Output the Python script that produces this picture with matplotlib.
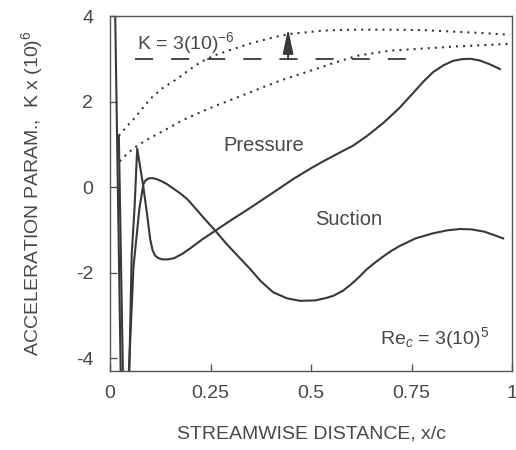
import matplotlib
matplotlib.use("Agg")
import matplotlib.pyplot as plt

plt.rcParams["font.family"] = ["Liberation Sans", "DejaVu Sans"]
plt.rcParams["mathtext.fontset"] = "custom"
plt.rcParams["mathtext.rm"] = "Liberation Sans"
plt.rcParams["mathtext.it"] = "Liberation Sans:italic"

# --- data --------------------------------------------------------------
pressure_x = [0.012, 0.027, 0.030, 0.044, 0.048, 0.054, 0.061, 0.0676, 0.072,
              0.078, 0.083, 0.092, 0.100, 0.106, 0.112, 0.120, 0.130, 0.145,
              0.160, 0.180, 0.200, 0.230, 0.262, 0.300, 0.340, 0.380, 0.420,
              0.456, 0.500, 0.530, 0.570, 0.605, 0.640, 0.680, 0.720, 0.754,
              0.780, 0.804, 0.830, 0.853, 0.875, 0.896, 0.920, 0.945, 0.970]
pressure_y = [4.6, -4.6, -5.0, -5.0, -4.3, -1.57, -0.5, 0.9, 0.65,
              0.3, 0.0, -0.62, -1.22, -1.48, -1.6, -1.66, -1.69, -1.69,
              -1.66, -1.56, -1.43, -1.22, -1.02, -0.78, -0.54, -0.29, -0.04,
              0.19, 0.44, 0.6, 0.8, 0.97, 1.2, 1.5, 1.85, 2.2,
              2.47, 2.69, 2.85, 2.95, 2.99, 3.0, 2.96, 2.87, 2.76]

suction_x = [0.022, 0.032, 0.036, 0.044, 0.047, 0.0584, 0.073, 0.083, 0.088,
             0.095, 0.105, 0.115, 0.125, 0.140, 0.160, 0.175, 0.192, 0.210,
             0.235, 0.262, 0.290, 0.320, 0.349, 0.375, 0.406, 0.440, 0.473,
             0.510, 0.535, 0.556, 0.580, 0.600, 0.620, 0.639, 0.660, 0.680,
             0.700, 0.722, 0.760, 0.804, 0.840, 0.871, 0.900, 0.930, 0.955,
             0.978]
suction_y = [1.2, -4.3, -5.0, -5.0, -4.3, -1.87, -0.51, 0.07, 0.15,
             0.2, 0.21, 0.19, 0.15, 0.08, -0.05, -0.15, -0.28, -0.47,
             -0.74, -1.02, -1.33, -1.63, -1.92, -2.2, -2.46, -2.6, -2.66,
             -2.65, -2.6, -2.54, -2.42, -2.27, -2.1, -1.92, -1.76, -1.62,
             -1.49, -1.37, -1.2, -1.08, -1.01, -0.98, -0.99, -1.04, -1.12,
             -1.2]

upper_dot_x = [0.022, 0.040, 0.059, 0.080, 0.100, 0.130, 0.167, 0.200, 0.225,
               0.260, 0.307, 0.350, 0.390, 0.420, 0.448, 0.500, 0.531, 0.600,
               0.697, 0.780, 0.864, 0.930, 0.995]
upper_dot_y = [1.2, 1.4, 1.59, 1.83, 2.06, 2.31, 2.53, 2.76, 2.92,
               3.08, 3.23, 3.36, 3.46, 3.53, 3.58, 3.63, 3.66, 3.68,
               3.68, 3.67, 3.63, 3.6, 3.56]

lower_dot_x = [0.024, 0.031, 0.045, 0.068, 0.100, 0.142, 0.180, 0.225, 0.265,
               0.307, 0.350, 0.390, 0.430, 0.473, 0.531, 0.556, 0.614, 0.697,
               0.780, 0.864, 0.930, 0.995]
lower_dot_y = [0.6, 0.67, 0.8, 0.97, 1.15, 1.36, 1.56, 1.75, 1.91,
               2.06, 2.22, 2.37, 2.51, 2.64, 2.82, 2.9, 3.07, 3.19,
               3.24, 3.29, 3.32, 3.35]

k_line_x = [0.063, 0.742]
k_line_y = [3.0, 3.0]
arrow_x = 0.443
arrow_y = (3.0, 3.7)

x_ticks = [0, 0.25, 0.5, 0.75, 1]
x_tick_labels = ["0", "0.25", "0.5", "0.75", "1"]
y_ticks = [-4, -2, 0, 2, 4]
y_tick_labels = ["-4", "-2", "0", "2", "4"]

INK = "#383838"
TXT = "#484848"

fig = plt.figure(figsize=(5.16, 4.5), dpi=100)
ax = fig.add_axes([110 / 516, (450 - 371) / 450, 402 / 516, 355 / 450])

ax.plot(pressure_x, pressure_y, color=INK, lw=1.5, solid_joinstyle="round")
ax.plot(suction_x, suction_y, color=INK, lw=1.5, solid_joinstyle="round")
ax.plot(upper_dot_x, upper_dot_y, color=INK, lw=1.5, linestyle=(0, (1, 2.4)))
ax.plot(lower_dot_x, lower_dot_y, color=INK, lw=1.5, linestyle=(0, (1, 2.4)))
ax.plot(k_line_x, k_line_y, color=INK, lw=1.3, linestyle=(0, (10, 10)))

ax.annotate("", xy=(arrow_x, arrow_y[1]), xytext=(arrow_x, arrow_y[0]),
            arrowprops=dict(arrowstyle="-|>,head_length=0.75,head_width=0.16",
                            color=INK, lw=1.3, mutation_scale=20,
                            shrinkA=0, shrinkB=0))

ax.text(0.068, 3.36, "K = 3(10)$^{-6}$", fontsize=14, color=TXT,
        va="center", ha="left")
ax.text(0.283, 0.97, "Pressure", fontsize=14.5, color=TXT, va="center", ha="left")
ax.text(0.51, -0.75, "Suction", fontsize=14.5, color=TXT, va="center", ha="left")
ax.text(0.672, -3.54, "Re$_c$ = 3(10)$^5$", fontsize=14, color=TXT,
        va="center", ha="left")

ax.set_xlim(0, 1)
ax.set_ylim(-4.3, 4.0)
ax.set_xticks(x_ticks)
ax.set_xticklabels(x_tick_labels)
ax.set_yticks(y_ticks)
ax.set_yticklabels(y_tick_labels)
ax.tick_params(direction="in", length=5, width=1.0, colors="#555555",
               labelcolor=TXT, labelsize=14)
ax.tick_params(axis="x", pad=10)
ax.tick_params(axis="y", pad=12)
for s in ax.spines.values():
    s.set_color("#555555")
    s.set_linewidth(1.0)

ax.set_xlabel("STREAMWISE DISTANCE, x/c", fontsize=14, color=TXT, labelpad=17)
ax.set_ylabel("ACCELERATION PARAM.,  K x (10)$^6$", fontsize=14, color=TXT,
              labelpad=22)

fig.savefig("out.png", dpi=100)
